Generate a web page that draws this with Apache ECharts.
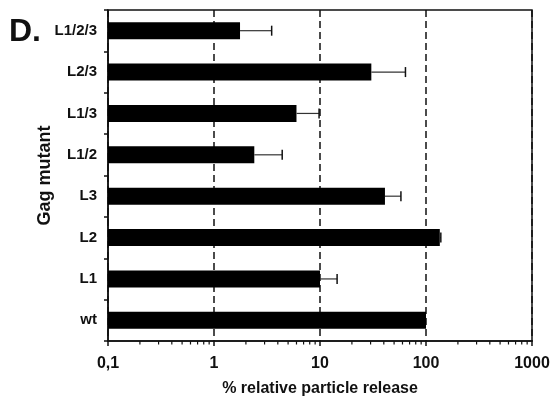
<!DOCTYPE html>
<html>
<head>
<meta charset="utf-8">
<script src="https://cdn.jsdelivr.net/npm/echarts@6/dist/echarts.min.js"></script>
<style>
  html, body { margin: 0; padding: 0; background: #fff; }
  #chart { width: 553px; height: 402px; }
</style>
</head>
<body>
<div id="chart"></div>
<script>
// categories, bottom to top
const mutants = ['wt', 'L1', 'L2', 'L3', 'L1/2', 'L1/3', 'L2/3', 'L1/2/3'];
// % relative particle release (mean) and upper end of the error bar
const release = [100, 10, 135, 41, 2.4, 6.0, 30.5, 1.76];
const releaseErr = [null, 14.5, 138, 58, 4.4, 9.8, 64, 3.5];
const xTickLabels = ['0,1', '1', '10', '100', '1000'];

// minor log ticks 2..9 of every decade
const minorTicks = [];
[0.1, 1, 10, 100].forEach(function (d) {
    for (let k = 2; k <= 9; k++) minorTicks.push([+(k * d).toPrecision(3), 0]);
});

const errData = [];
mutants.forEach(function (m, i) {
    if (releaseErr[i] != null) errData.push([i, release[i], releaseErr[i]]);
});

const ink = '#111';
const font = 'Liberation Sans, Arial, sans-serif';

var myChart = echarts.init(document.getElementById('chart'));

var option = {
    animation: false,
    title: {
        text: 'D.',
        left: 4,
        top: 11,
        textStyle: { fontFamily: font, fontSize: 32, fontWeight: 'bold', color: ink }
    },
    grid: {
        left: 108,
        right: 21,
        top: 10,
        bottom: 59,
        show: true,
        borderColor: ink,
        borderWidth: 1.5,
        backgroundColor: '#fff'
    },
    xAxis: {
        type: 'log',
        logBase: 10,
        min: 0.1,
        max: 1000,
        startValue: 0.1,
        name: '% relative particle release',
        nameLocation: 'middle',
        nameGap: 40,
        nameMoveOverlap: false,
        nameTextStyle: { fontFamily: font, fontSize: 16, fontWeight: 'bold', color: ink },
        axisLine: { show: true, lineStyle: { color: ink, width: 1.5 } },
        axisTick: { show: true, inside: false, length: 5, lineStyle: { color: ink, width: 1.5 } },
        minorTick: { show: false },
        axisLabel: {
            margin: 15,
            fontFamily: font,
            fontSize: 16,
            fontWeight: 'bold',
            color: ink,
            formatter: function (v, i) { return xTickLabels[i]; }
        },
        splitLine: { show: true, lineStyle: { color: ink, width: 1.5, type: [7, 4] } }
    },
    yAxis: {
        type: 'category',
        data: mutants,
        name: 'Gag mutant',
        nameLocation: 'middle',
        nameRotate: 90,
        nameGap: 54,
        nameMoveOverlap: false,
        nameTextStyle: { fontFamily: font, fontSize: 18, fontWeight: 'bold', color: ink },
        axisLine: { show: true, lineStyle: { color: ink, width: 1.5 } },
        axisTick: { show: true, inside: false, length: 4, alignWithLabel: false, lineStyle: { color: ink, width: 1.5 } },
        axisLabel: { margin: 11, fontFamily: font, fontSize: 15, fontWeight: 'bold', color: ink },
        splitLine: { show: false }
    },
    series: [
        {
            name: 'release',
            type: 'bar',
            data: release,
            barWidth: 17,
            itemStyle: { color: '#000' },
            z: 3
        },
        {
            name: 'error',
            type: 'custom',
            data: errData,
            encode: { x: [1, 2], y: 0 },
            z: 4,
            renderItem: function (params, api) {
                const p0 = api.coord([api.value(1), api.value(0)]);
                const p1 = api.coord([api.value(2), api.value(0)]);
                const h = 5;
                return {
                    type: 'group',
                    children: [
                        { type: 'line', shape: { x1: p0[0], y1: p0[1], x2: p1[0], y2: p1[1] }, style: { stroke: '#333', lineWidth: 1.2 } },
                        { type: 'line', shape: { x1: p1[0], y1: p1[1] - h, x2: p1[0], y2: p1[1] + h }, style: { stroke: ink, lineWidth: 1.5 } }
                    ]
                };
            }
        },
        {
            name: 'minor',
            type: 'custom',
            data: minorTicks,
            encode: { x: 0 },
            clip: false,
            silent: true,
            renderItem: function (params, api) {
                const x = api.coord([api.value(0), 0])[0];
                const y = params.coordSys.y + params.coordSys.height;
                return {
                    type: 'line',
                    shape: { x1: x, y1: y, x2: x, y2: y + 3.5 },
                    style: { stroke: ink, lineWidth: 1.2 }
                };
            }
        }
    ]
};

myChart.setOption(option);
</script>
</body>
</html>
